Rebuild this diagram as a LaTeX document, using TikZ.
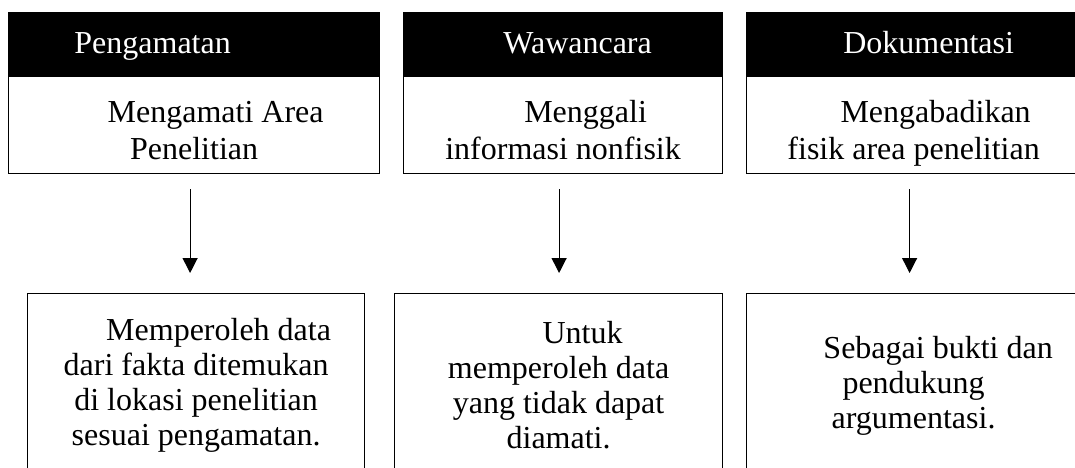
\documentclass[tikz,border=0pt]{standalone}
\usepackage{fontspec}
\setmainfont{Liberation Serif}
\usetikzlibrary{positioning,arrows.meta}
\tikzset{
  boxnode/.style = {rectangle, draw=black, line width=1.2pt, inner sep=0pt, font=\fontsize{32}{35}\selectfont},
  % header: black bar, white text
  box_H/.style = {boxnode, fill=black, text=white, minimum height=63pt, text height=22pt, text depth=4pt},
  % method box under the header
  box_M/.style = {boxnode, fill=white, align=center, minimum height=97pt,
                  font=\fontsize{32}{37}\selectfont, text height=69pt, text depth=0pt},
  % result box at the bottom (runs past the page)
  box_R/.style = {boxnode, fill=white, align=center, minimum height=184pt},
  flow_A/.style = {->, line width=1.2pt, shorten <=15pt, shorten >=20pt}
}

\begin{document}
\begin{tikzpicture}[x=1pt, y=-1pt, >={Triangle[width=15pt,length=15pt]}]
    \useasboundingbox (0,0) rectangle (1075,467);
    \clip (0,0) rectangle (1075,467);
    % Column 1 - Pengamatan:
    \node [box_H, minimum width=371pt, anchor=north west] (h1) at (8,12) {Pengamatan\hspace{83pt}\null};
    \node [box_M, minimum width=371pt, below=0pt of h1] (m1) {\hspace*{43pt}Mengamati Area\\Penelitian};
    \node [box_R, minimum width=337pt, anchor=north west] (r1) at (27,293)
          {\hspace*{45pt}Memperoleh data\\dari fakta ditemukan\\di lokasi penelitian\\sesuai pengamatan.};
    % Column 2 - Wawancara:
    \node [box_H, minimum width=319pt, anchor=north west] (h2) at (403,12) {\hspace{29pt}Wawancara};
    \node [box_M, minimum width=319pt, below=0pt of h2] (m2) {\hspace*{45pt}Menggali\\informasi nonfisik};
    \node [box_R, minimum width=328pt, anchor=north west] (r2) at (394,293)
          {\hspace*{48pt}Untuk\\memperoleh data\\yang tidak dapat\\diamati.};
    % Column 3 - Dokumentasi:
    \node [box_H, minimum width=334pt, anchor=north west] (h3) at (746,12) {\hspace{30pt}Dokumentasi};
    \node [box_M, minimum width=334pt, below=0pt of h3] (m3) {\hspace*{44pt}Mengabadikan\\fisik area penelitian};
    \node [box_R, minimum width=334pt, anchor=north west] (r3) at (746,293)
          {\hspace*{49pt}Sebagai bukti dan\\pendukung\\argumentasi.};
    % arrows
    \draw [flow_A] ([xshift=-4pt]m1.south) -- ([xshift=-4pt]m1.south |- r1.north);
    \draw [flow_A] ([xshift=-4pt]m2.south) -- ([xshift=-4pt]m2.south |- r2.north);
    \draw [flow_A] ([xshift=-4pt]m3.south) -- ([xshift=-4pt]m3.south |- r3.north);
\end{tikzpicture}
\end{document}
